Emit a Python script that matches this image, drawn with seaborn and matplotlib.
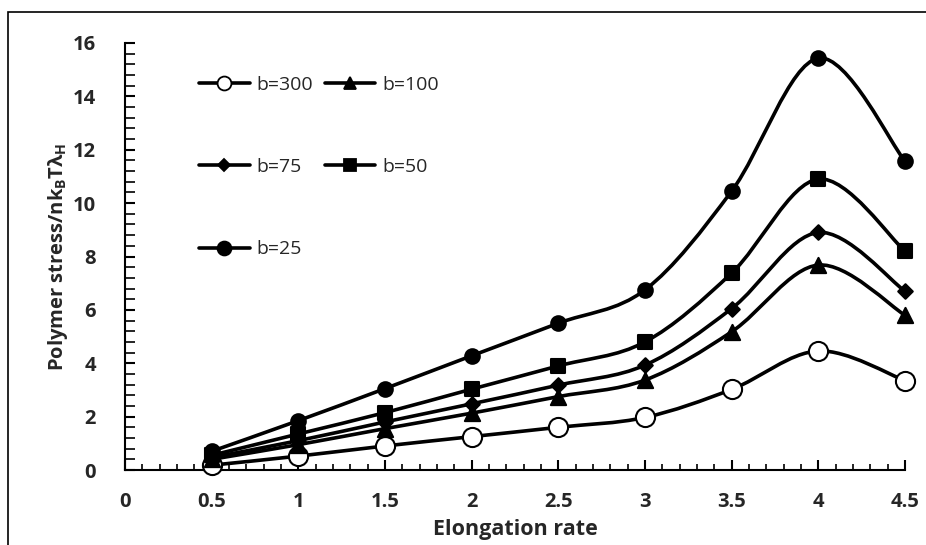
import numpy as np
import pandas as pd
import matplotlib
matplotlib.use("Agg")
import matplotlib.pyplot as plt
import seaborn as sns
from matplotlib.path import Path
from matplotlib.patches import PathPatch, Rectangle
from matplotlib.lines import Line2D
from matplotlib.ticker import MultipleLocator

# ---- data ----
rates = [0.5, 1.0, 1.5, 2.0, 2.5, 3.0, 3.5, 4.0, 4.5]
b300 = [0.18, 0.52, 0.90, 1.25, 1.60, 1.97, 3.02, 4.46, 3.35]
b100 = [0.40, 0.95, 1.55, 2.13, 2.75, 3.37, 5.18, 7.68, 5.80]
b75 = [0.47, 1.10, 1.80, 2.48, 3.18, 3.93, 6.05, 8.90, 6.70]
b50 = [0.55, 1.35, 2.15, 3.03, 3.90, 4.80, 7.38, 10.90, 8.20]
b25 = [0.70, 1.85, 3.05, 4.28, 5.50, 6.75, 10.45, 15.43, 11.57]
labels = ["b=300", "b=100", "b=75", "b=50", "b=25"]
series = [b300, b100, b75, b50, b25]
x_ticks = [0, 0.5, 1, 1.5, 2, 2.5, 3, 3.5, 4, 4.5]
y_ticks = [0, 2, 4, 6, 8, 10, 12, 14, 16]

sns.set_theme(style="white")
plt.rcParams["font.family"] = ["Open Sans", "DejaVu Sans"]
plt.rcParams["mathtext.default"] = "regular"

fig = plt.figure(figsize=(9.26, 5.45), dpi=100)
ax = fig.add_axes([125 / 926, 1 - 470 / 545, 780 / 926, 427 / 545])

styles = {
    "b=300": dict(marker="o", s=190, facecolor="white", lms=10),
    "b=100": dict(marker="^", s=120, facecolor="black", lms=8.5),
    "b=75": dict(marker="D", s=55, facecolor="black", lms=6),
    "b=50": dict(marker="s", s=95, facecolor="black", lms=9),
    "b=25": dict(marker="o", s=110, facecolor="black", lms=10),
}


def smooth_path(xs, ys):
    pts = np.column_stack([xs, ys]).astype(float)
    n = len(pts)
    verts = [pts[0]]
    codes = [Path.MOVETO]
    for i in range(n - 1):
        p_prev = pts[i - 1] if i > 0 else pts[i]
        p0 = pts[i]
        p1 = pts[i + 1]
        p_next = pts[i + 2] if i + 2 < n else pts[i + 1]
        c1 = p0 + (p1 - p_prev) / 6.0
        c2 = p1 - (p_next - p0) / 6.0
        verts += [c1, c2, p1]
        codes += [Path.CURVE4] * 3
    return Path(verts, codes)


rows = []
for lab, vals in zip(labels, series):
    for xv, yv in zip(rates, vals):
        rows.append({"rate": xv, "stress": yv, "series": lab})
df = pd.DataFrame(rows)

for lab, vals in zip(labels, series):
    ax.add_patch(PathPatch(smooth_path(rates, vals), fill=False, edgecolor="black",
                           lw=2.6, zorder=2, capstyle="round"))
    st = styles[lab]
    sub = df[df["series"] == lab]
    sns.scatterplot(data=sub, x="rate", y="stress", ax=ax, marker=st["marker"], s=st["s"],
                    color=st["facecolor"], edgecolor="black", linewidth=1.5, zorder=3,
                    legend=False, clip_on=False)

ax.set_xlim(0, 4.5)
ax.set_ylim(0, 16)
ax.set_xticks(x_ticks)
ax.set_xticklabels([f"{t:g}" for t in x_ticks])
ax.set_yticks(y_ticks)
ax.xaxis.set_minor_locator(MultipleLocator(0.1))
ax.yaxis.set_minor_locator(MultipleLocator(0.4))

for s in ["top", "right"]:
    ax.spines[s].set_visible(False)
for s in ["left", "bottom"]:
    ax.spines[s].set_color("black")
    ax.spines[s].set_linewidth(1.5)

ax.tick_params(axis="both", which="major", direction="in", length=7, width=1.5,
               color="black", labelsize=14.5, pad=21)
ax.tick_params(axis="x", which="minor", direction="in", length=4, width=1.2, color="black")
ax.tick_params(axis="y", which="minor", direction="in", length=7, width=1.2, color="black")
ax.tick_params(axis="x", which="both", bottom=True, top=False)
ax.tick_params(axis="y", which="both", left=True, right=False)
for t in ax.get_xticklabels() + ax.get_yticklabels():
    t.set_fontweight("bold")
ax.tick_params(axis="x", which="major", pad=16)

ax.set_xlabel("Elongation rate", fontsize=15.5, fontweight="bold", labelpad=5)
ax.set_ylabel(r"Polymer stress/nk$_B$T$λ_H$", fontsize=14.5, fontweight="bold", labelpad=2)
ax.grid(False)

order = ["b=300", "b=75", "b=25", "b=100", "b=50"]
handles = []
for lab in order:
    st = styles[lab]
    handles.append(Line2D([], [], color="black", lw=2.6, marker=st["marker"], markersize=st["lms"],
                          markerfacecolor=st["facecolor"], markeredgecolor="black",
                          markeredgewidth=1.3))
leg = ax.legend(handles, order, loc="upper left", bbox_to_anchor=(199 / 926, 1 - 76 / 545),
                bbox_transform=fig.transFigure, ncol=2, frameon=False, fontsize=14,
                handlelength=2.6, handletextpad=0.35, columnspacing=0.6, labelspacing=3.3,
                borderpad=0, borderaxespad=0)

fig.patches.append(Rectangle((8 / 926, -0.05), 1.1, 1 - 12 / 545 + 0.05, transform=fig.transFigure,
                             fill=False, edgecolor="black", lw=1.2, zorder=0))

fig.savefig("out.png", dpi=100)
